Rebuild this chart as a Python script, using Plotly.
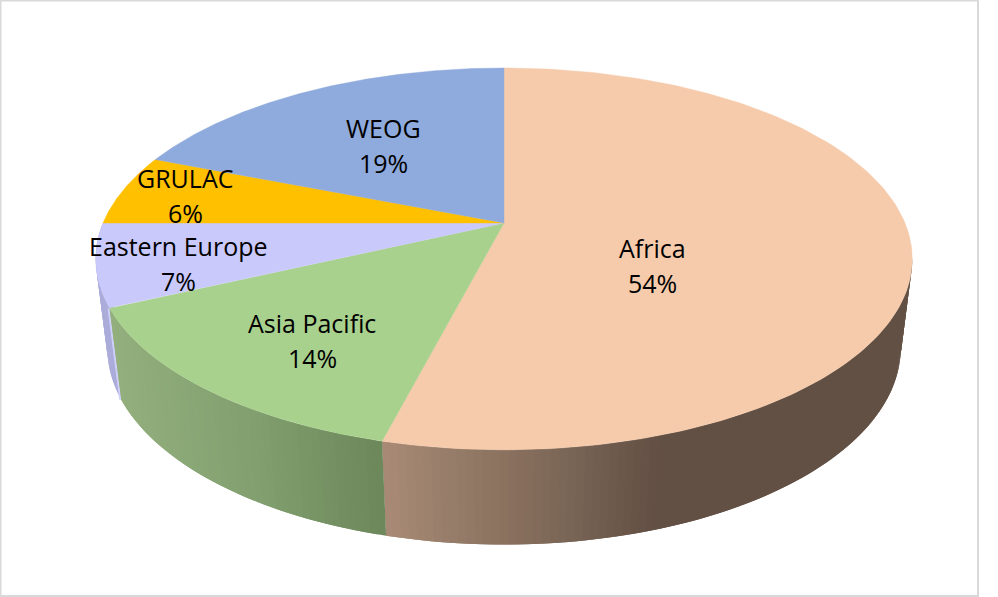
import numpy as np
import plotly.graph_objects as go

categories = ["Africa", "Asia Pacific", "Eastern Europe", "GRULAC", "WEOG"]
values = [54, 14, 7, 6, 19]
top_colors = ["#F5CBAB", "#A9D18E", "#C9C9FB", "#FFC000", "#8FAADC"]
label_centres = [(652, 248), (312, 323), (178, 246), (185, 178), (383, 128)]
label_gap = 35

# Projection of the pie's two circular faces onto the canvas (pixel units)
CX = 504
TOP = dict(a=401.0, b=184.2, k=0.188, y0=223.0)
BOTTOM = dict(a=390.0, b=190.0, k=0.183, y0=312.0)

# Wall shading, as colour stops along the horizontal canvas position
AFRICA_SHADE = ([385, 450, 520, 560, 650, 920],
                [(168, 138, 118), (150, 125, 105), (135, 110, 92),
                 (122, 103, 88), (100, 80, 68), (98, 80, 68)])
ASIA_SHADE = ([110, 250, 385], [(148, 176, 126), (130, 160, 112), (108, 135, 90)])
EE_SHADE = ([90, 125], [(172, 172, 218), (172, 172, 218)])
EE_EDGE = "rgb(207,207,250)"
FRAME = "#D9D9D9"


def project(deg, face):
    t = np.radians(deg)
    x, y = np.sin(t), np.cos(t)
    d = 1 + face["k"] * y
    return CX + face["a"] * x / d, face["y0"] - face["b"] * y / d


def shade(px, stops):
    xs, cols = stops
    return "rgb(%d,%d,%d)" % tuple(np.interp(px, xs, [c[i] for c in cols]) for i in range(3))


edges = np.concatenate([[0], np.cumsum(values)]) * 3.6
fig = go.Figure()


def poly(xs, ys, colour, lw=0.0):
    fig.add_trace(go.Scatter(x=xs, y=ys, mode="lines", fill="toself", fillcolor=colour,
                             line=dict(color=colour, width=lw), hoverinfo="skip",
                             showlegend=False))


def wall(a0, a1, stops):
    # Each strip runs on under the next one, so no seams show between them
    grid = np.arange(a0, a1 + 1e-9, 1.0)
    for s in grid:
        e = min(s + 2.0, a1)
        ang = np.array([s, e])
        tx, ty = project(ang, TOP)
        bx, by = project(ang, BOTTOM)
        poly(np.r_[tx, bx[::-1], tx[0]], np.r_[ty, by[::-1], ty[0]],
             shade((tx.mean() + bx.mean()) / 2, stops))


# Side walls, drawn back to front
wall(edges[2], edges[3], EE_SHADE)
ex0, ey0 = project(edges[2], TOP)
ex1, ey1 = project(edges[2], BOTTOM)
fig.add_trace(go.Scatter(x=[ex0, ex1], y=[ey0, ey1], mode="lines", hoverinfo="skip",
                         showlegend=False, line=dict(color=EE_EDGE, width=4)))
wall(100.5, edges[1], AFRICA_SHADE)
wall(edges[1], edges[2], ASIA_SHADE)

# Top faces
for i, colour in enumerate(top_colors):
    ang = np.linspace(edges[i], edges[i + 1], 181)
    px, py = project(ang, TOP)
    poly(np.r_[CX, px, CX], np.r_[TOP["y0"], py, TOP["y0"]], colour, 0.4)

# Labels
for name, val, (lx, ly) in zip(categories, values, label_centres):
    for text, yy in ((name, ly), (f"{val}%", ly + label_gap)):
        fig.add_annotation(x=lx, y=yy, text=text, showarrow=False, xanchor="center",
                           yanchor="middle", font=dict(family="Open Sans", size=25, color="black"))

fig.add_shape(type="rect", x0=0.5, y0=0.5, x1=978, y1=596, line=dict(color=FRAME, width=2),
              fillcolor="rgba(0,0,0,0)", layer="below")

fig.update_layout(
    width=998, height=597, margin=dict(l=0, r=0, t=0, b=0),
    paper_bgcolor="white", plot_bgcolor="white", showlegend=False,
    xaxis=dict(range=[0, 998], visible=False, fixedrange=True),
    yaxis=dict(range=[597, 0], visible=False, fixedrange=True),
)
fig.write_html("out.html", config={"displayModeBar": False},
               post_script="document.body.style.margin='0';")
